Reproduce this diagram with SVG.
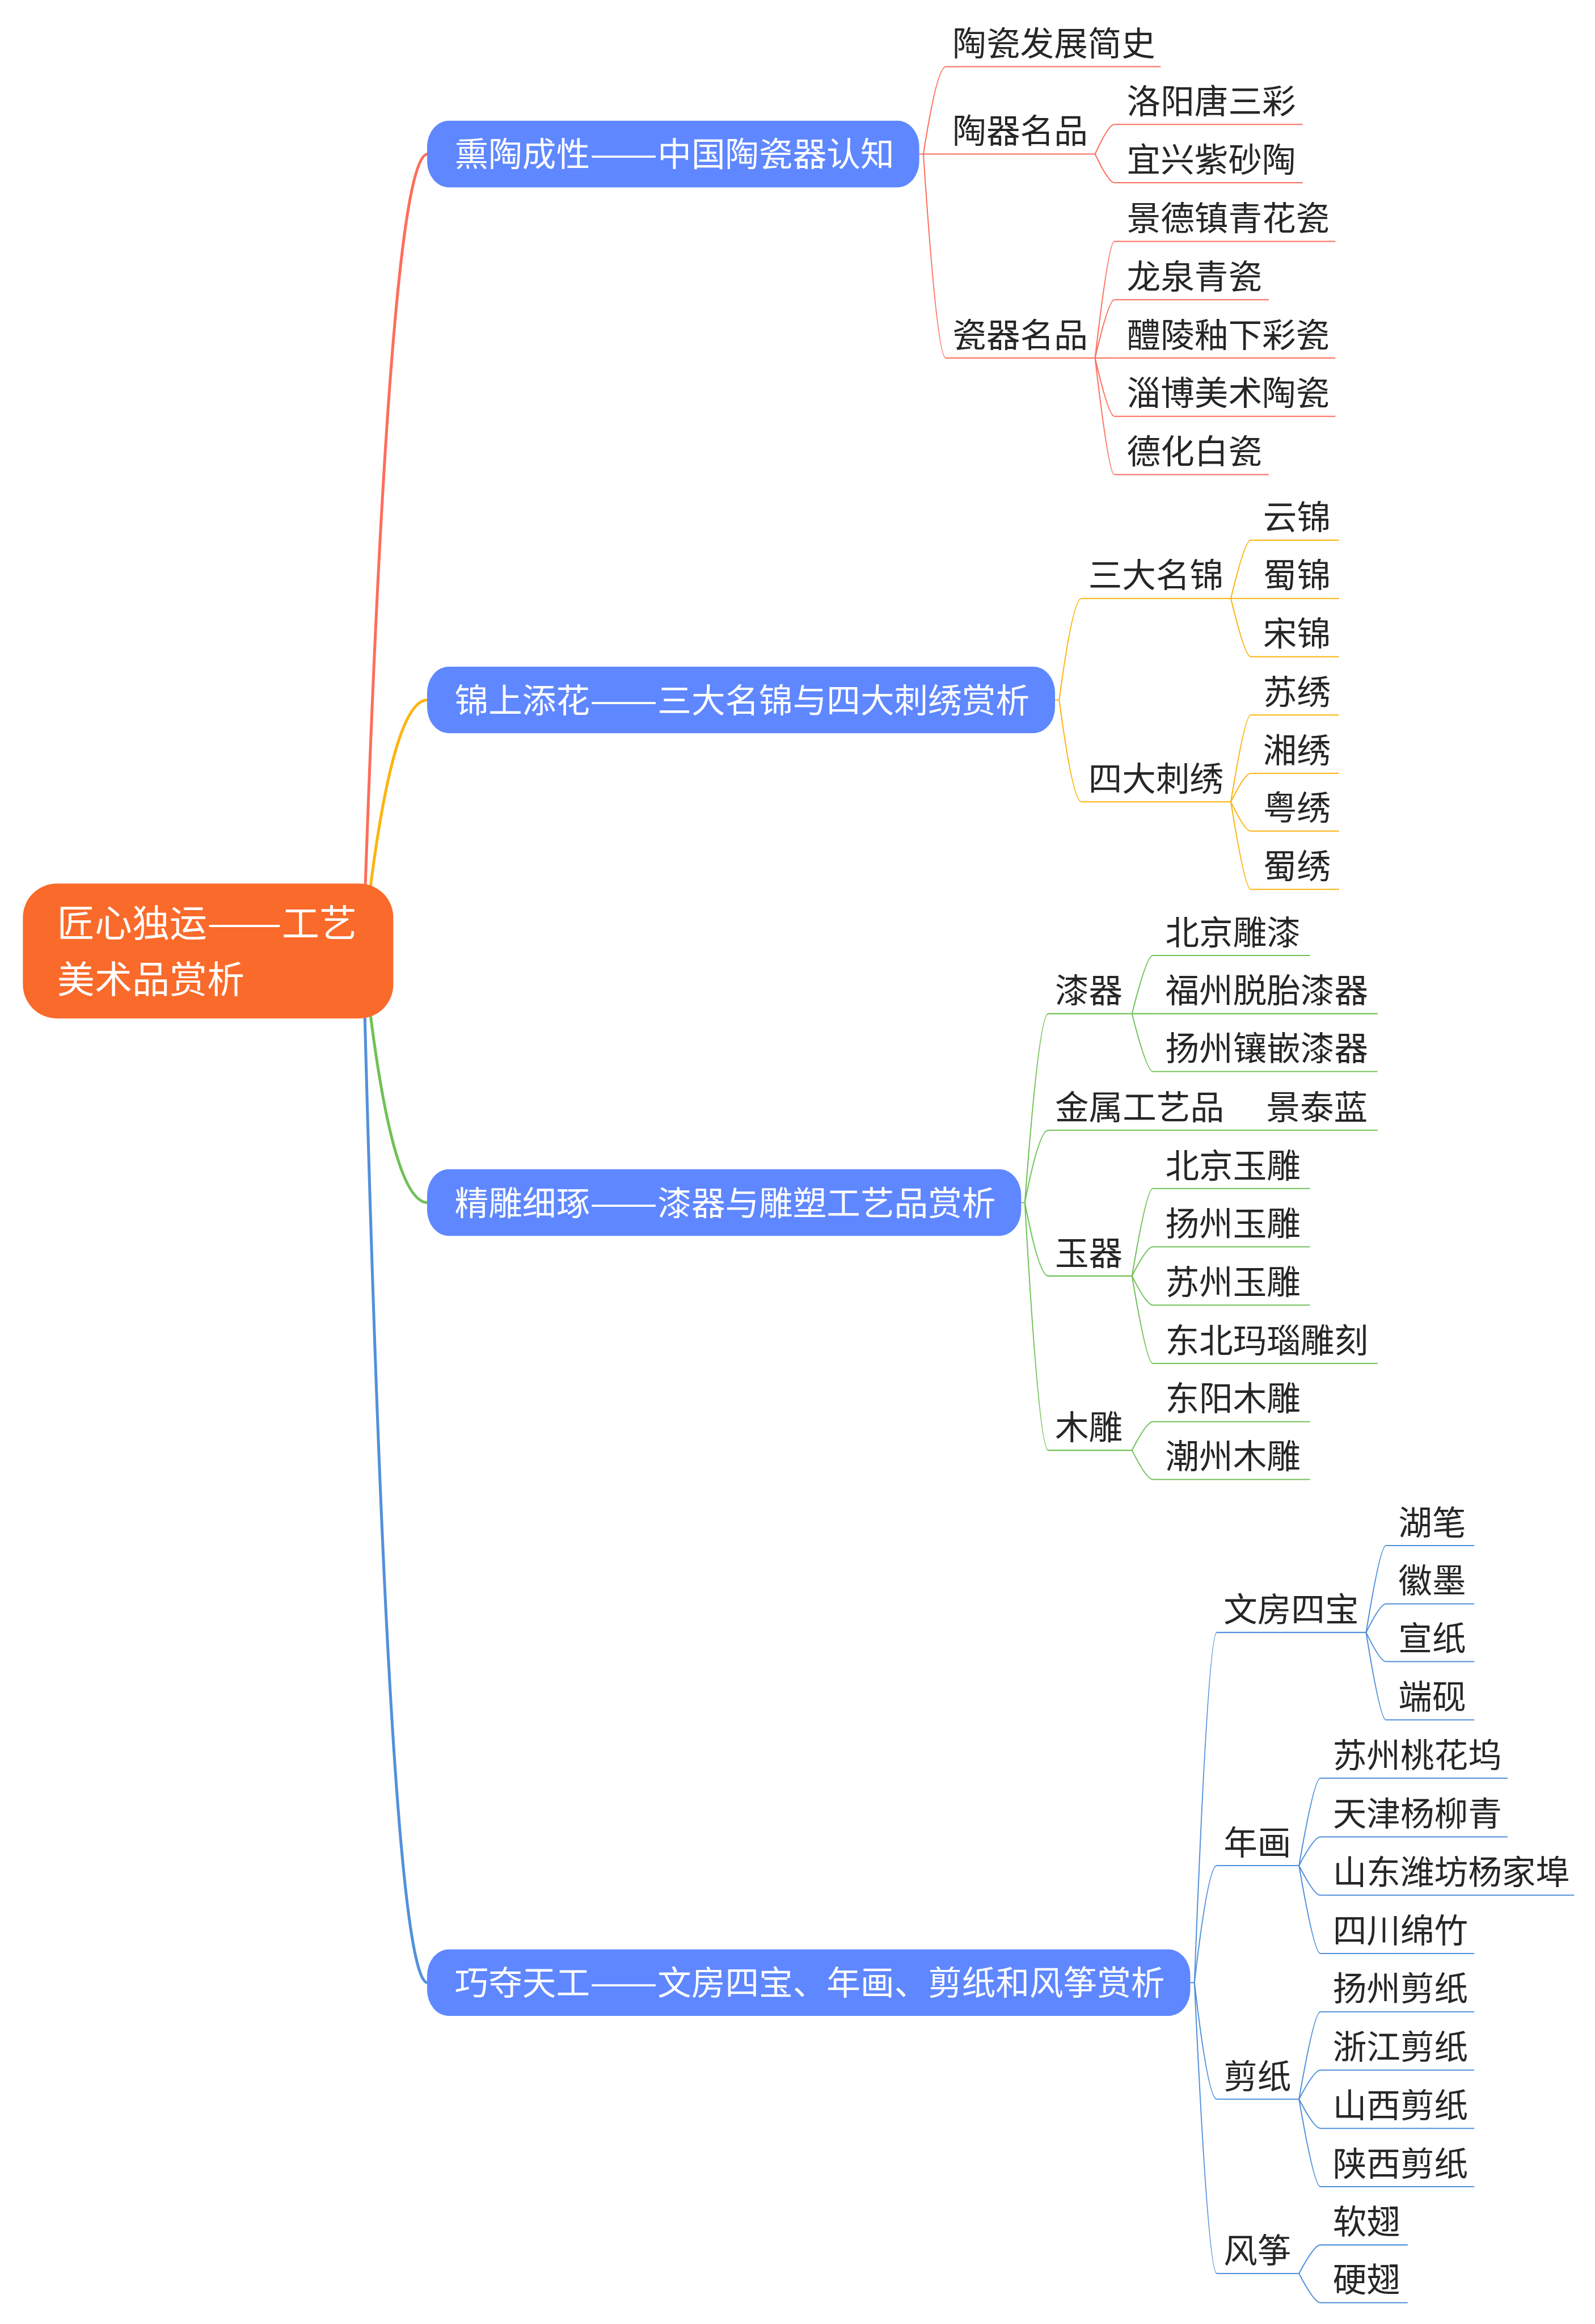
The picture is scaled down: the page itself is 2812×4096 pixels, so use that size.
<svg xmlns="http://www.w3.org/2000/svg" width="2812" height="4096" viewBox="0 0 2812 4096">
<style>
text{font-family:"Noto Sans CJK SC","Noto Sans",sans-serif;font-size:65px;fill:#262626;stroke:none}
.tn{fill:#ffffff}
.tr{fill:#ffffff;font-size:72px}
.m{fill:none;stroke-width:5.5;stroke-linecap:round}
.s{fill:none;stroke-width:2.2}
.u{stroke-width:2.2}
.c1{stroke:#FE6D5B}
.c2{stroke:#FDB40F}
.c3{stroke:#70C157}
.c4{stroke:#5290DB}
.nb{fill:#5F87FF}
</style>
<rect width="2812" height="4096" fill="#ffffff"/>
<g transform="scale(0.91716)">
<g id="connectors">
<path class="m c1" d="M698 1827 Q748 296 822 296"/>
<path class="m c2" d="M698 1827 Q748 1345 822 1345"/>
<path class="m c3" d="M698 1827 Q748 2311 822 2311"/>
<path class="m c4" d="M698 1827 Q748 3810 822 3810"/>
<g class="s c1">
<path d="M1767 296 H1818"/>
<path d="M1775 296 Q1801 128 1818 128"/>
<path d="M1775 296 Q1801 688 1818 688"/>
<path d="M2105 296 Q2131 239 2142 239"/>
<path d="M2105 296 Q2131 351 2142 351"/>
<path d="M2105 688 Q2131 464 2142 464"/>
<path d="M2105 688 Q2131 576 2142 576"/>
<path d="M2105 688 H2142"/>
<path d="M2105 688 Q2131 800 2142 800"/>
<path d="M2105 688 Q2131 912 2142 912"/>
</g>
<g class="s c2">
<path d="M2028 1345 H2036"/>
<path d="M2036 1345 Q2062 1150 2079 1150"/>
<path d="M2036 1345 Q2062 1541 2079 1541"/>
<path d="M2366 1150 Q2393 1038 2404 1038"/>
<path d="M2366 1150 H2404"/>
<path d="M2366 1150 Q2393 1262 2404 1262"/>
<path d="M2366 1541 Q2393 1374 2404 1374"/>
<path d="M2366 1541 Q2393 1486 2404 1486"/>
<path d="M2366 1541 Q2393 1597 2404 1597"/>
<path d="M2366 1541 Q2393 1709 2404 1709"/>
</g>
<g class="s c3">
<path d="M1963 2311 H1970"/>
<path d="M1970 2311 Q1997 1948 2015 1948"/>
<path d="M1970 2311 Q1997 2172 2015 2172"/>
<path d="M1970 2311 Q1997 2452 2015 2452"/>
<path d="M1970 2311 Q1997 2787 2015 2787"/>
<path d="M2176 1948 Q2204 1836 2216 1836"/>
<path d="M2176 1948 H2216"/>
<path d="M2176 1948 Q2204 2059 2216 2059"/>
<path d="M2365 2172 H2403"/>
<path d="M2176 2452 Q2204 2284 2216 2284"/>
<path d="M2176 2452 Q2204 2396 2216 2396"/>
<path d="M2176 2452 Q2204 2508 2216 2508"/>
<path d="M2176 2452 Q2204 2620 2216 2620"/>
<path d="M2176 2787 Q2204 2732 2216 2732"/>
<path d="M2176 2787 Q2204 2843 2216 2843"/>
</g>
<g class="s c4">
<path d="M2288 3810 H2296"/>
<path d="M2296 3810 Q2322 3137 2339 3137"/>
<path d="M2296 3810 Q2322 3585 2339 3585"/>
<path d="M2296 3810 Q2322 4034 2339 4034"/>
<path d="M2296 3810 Q2322 4369 2339 4369"/>
<path d="M2626 3137 Q2653 2970 2664 2970"/>
<path d="M2626 3137 Q2653 3082 2664 3082"/>
<path d="M2626 3137 Q2653 3193 2664 3193"/>
<path d="M2626 3137 Q2653 3305 2664 3305"/>
<path d="M2497 3585 Q2526 3417 2538 3417"/>
<path d="M2497 3585 Q2526 3530 2538 3530"/>
<path d="M2497 3585 Q2526 3642 2538 3642"/>
<path d="M2497 3585 Q2526 3754 2538 3754"/>
<path d="M2497 4034 Q2526 3866 2538 3866"/>
<path d="M2497 4034 Q2526 3978 2538 3978"/>
<path d="M2497 4034 Q2526 4090 2538 4090"/>
<path d="M2497 4034 Q2526 4202 2538 4202"/>
<path d="M2497 4369 Q2526 4314 2538 4314"/>
<path d="M2497 4369 Q2526 4425 2538 4425"/>
</g>
</g>
<g id="root"><rect x="44" y="1698" width="712" height="259" rx="65" fill="#F96A2B"/><text class="tr" x="110" y="1800">匠心独运<tspan x="398" textLength="144" lengthAdjust="spacingAndGlyphs">——</tspan><tspan x="542">工艺</tspan></text><text class="tr" x="110" y="1908">美术品赏析</text></g>
<g id="b1"><rect class="nb" x="821" y="232" width="946" height="128" rx="42" ry="50"/><text class="tn" x="874" y="320">熏陶成性<tspan x="1134" textLength="130" lengthAdjust="spacingAndGlyphs">——</tspan><tspan x="1264">中国陶瓷器认知</tspan></text></g>
<g id="b2"><rect class="nb" x="821" y="1281" width="1207" height="128" rx="42" ry="50"/><text class="tn" x="874" y="1369">锦上添花<tspan x="1134" textLength="130" lengthAdjust="spacingAndGlyphs">——</tspan><tspan x="1264">三大名锦与四大刺绣赏析</tspan></text></g>
<g id="b3"><rect class="nb" x="821" y="2247" width="1142" height="128" rx="42" ry="50"/><text class="tn" x="874" y="2335">精雕细琢<tspan x="1134" textLength="130" lengthAdjust="spacingAndGlyphs">——</tspan><tspan x="1264">漆器与雕塑工艺品赏析</tspan></text></g>
<g id="b4"><rect class="nb" x="821" y="3746" width="1467" height="128" rx="42" ry="50"/><text class="tn" x="874" y="3834">巧夺天工<tspan x="1134" textLength="130" lengthAdjust="spacingAndGlyphs">——</tspan><tspan x="1264">文房四宝、年画、剪纸和风筝赏析</tspan></text></g>
<g class="c1">
<g id="n1a"><line class="u" x1="1818" y1="128" x2="2231" y2="128"/><text x="1831" y="107">陶瓷发展简史</text></g>
<g id="n1b"><line class="u" x1="1818" y1="296" x2="2105" y2="296"/><text x="1831" y="275">陶器名品</text></g>
<g id="n1c"><line class="u" x1="1818" y1="688" x2="2105" y2="688"/><text x="1831" y="667">瓷器名品</text></g>
<g id="n1b1"><line class="u" x1="2142" y1="239" x2="2504" y2="239"/><text x="2166" y="218">洛阳唐三彩</text></g>
<g id="n1b2"><line class="u" x1="2142" y1="351" x2="2504" y2="351"/><text x="2166" y="330">宜兴紫砂陶</text></g>
<g id="n1c1"><line class="u" x1="2142" y1="464" x2="2567" y2="464"/><text x="2166" y="443">景德镇青花瓷</text></g>
<g id="n1c2"><line class="u" x1="2142" y1="576" x2="2439" y2="576"/><text x="2166" y="555">龙泉青瓷</text></g>
<g id="n1c3"><line class="u" x1="2142" y1="688" x2="2567" y2="688"/><text x="2166" y="667">醴陵釉下彩瓷</text></g>
<g id="n1c4"><line class="u" x1="2142" y1="800" x2="2567" y2="800"/><text x="2166" y="779">淄博美术陶瓷</text></g>
<g id="n1c5"><line class="u" x1="2142" y1="912" x2="2439" y2="912"/><text x="2166" y="891">德化白瓷</text></g>
</g>
<g class="c2">
<g id="n2a"><line class="u" x1="2079" y1="1150" x2="2366" y2="1150"/><text x="2092" y="1129">三大名锦</text></g>
<g id="n2b"><line class="u" x1="2079" y1="1541" x2="2366" y2="1541"/><text x="2092" y="1520">四大刺绣</text></g>
<g id="n2a1"><line class="u" x1="2404" y1="1038" x2="2574" y2="1038"/><text x="2428" y="1017">云锦</text></g>
<g id="n2a2"><line class="u" x1="2404" y1="1150" x2="2574" y2="1150"/><text x="2428" y="1129">蜀锦</text></g>
<g id="n2a3"><line class="u" x1="2404" y1="1262" x2="2574" y2="1262"/><text x="2428" y="1241">宋锦</text></g>
<g id="n2b1"><line class="u" x1="2404" y1="1374" x2="2574" y2="1374"/><text x="2428" y="1353">苏绣</text></g>
<g id="n2b2"><line class="u" x1="2404" y1="1486" x2="2574" y2="1486"/><text x="2428" y="1465">湘绣</text></g>
<g id="n2b3"><line class="u" x1="2404" y1="1597" x2="2574" y2="1597"/><text x="2428" y="1576">粤绣</text></g>
<g id="n2b4"><line class="u" x1="2404" y1="1709" x2="2574" y2="1709"/><text x="2428" y="1688">蜀绣</text></g>
</g>
<g class="c3">
<g id="n3a"><line class="u" x1="2015" y1="1948" x2="2176" y2="1948"/><text x="2028" y="1927">漆器</text></g>
<g id="n3b"><line class="u" x1="2015" y1="2172" x2="2365" y2="2172"/><text x="2028" y="2151">金属工艺品</text></g>
<g id="n3c"><line class="u" x1="2015" y1="2452" x2="2176" y2="2452"/><text x="2028" y="2431">玉器</text></g>
<g id="n3d"><line class="u" x1="2015" y1="2787" x2="2176" y2="2787"/><text x="2028" y="2766">木雕</text></g>
<g id="n3a1"><line class="u" x1="2216" y1="1836" x2="2518" y2="1836"/><text x="2240" y="1815">北京雕漆</text></g>
<g id="n3a2"><line class="u" x1="2216" y1="1948" x2="2648" y2="1948"/><text x="2240" y="1927">福州脱胎漆器</text></g>
<g id="n3a3"><line class="u" x1="2216" y1="2059" x2="2648" y2="2059"/><text x="2240" y="2038">扬州镶嵌漆器</text></g>
<g id="n3b1"><line class="u" x1="2403" y1="2172" x2="2648" y2="2172"/><text x="2434" y="2151">景泰蓝</text></g>
<g id="n3c1"><line class="u" x1="2216" y1="2284" x2="2518" y2="2284"/><text x="2240" y="2263">北京玉雕</text></g>
<g id="n3c2"><line class="u" x1="2216" y1="2396" x2="2518" y2="2396"/><text x="2240" y="2375">扬州玉雕</text></g>
<g id="n3c3"><line class="u" x1="2216" y1="2508" x2="2518" y2="2508"/><text x="2240" y="2487">苏州玉雕</text></g>
<g id="n3c4"><line class="u" x1="2216" y1="2620" x2="2648" y2="2620"/><text x="2240" y="2599">东北玛瑙雕刻</text></g>
<g id="n3d1"><line class="u" x1="2216" y1="2732" x2="2518" y2="2732"/><text x="2240" y="2711">东阳木雕</text></g>
<g id="n3d2"><line class="u" x1="2216" y1="2843" x2="2518" y2="2843"/><text x="2240" y="2822">潮州木雕</text></g>
</g>
<g class="c4">
<g id="n4a"><line class="u" x1="2339" y1="3137" x2="2626" y2="3137"/><text x="2352" y="3116">文房四宝</text></g>
<g id="n4b"><line class="u" x1="2339" y1="3585" x2="2497" y2="3585"/><text x="2352" y="3564">年画</text></g>
<g id="n4c"><line class="u" x1="2339" y1="4034" x2="2497" y2="4034"/><text x="2352" y="4013">剪纸</text></g>
<g id="n4d"><line class="u" x1="2339" y1="4369" x2="2497" y2="4369"/><text x="2352" y="4348">风筝</text></g>
<g id="n4a1"><line class="u" x1="2664" y1="2970" x2="2834" y2="2970"/><text x="2688" y="2949">湖笔</text></g>
<g id="n4a2"><line class="u" x1="2664" y1="3082" x2="2834" y2="3082"/><text x="2688" y="3061">徽墨</text></g>
<g id="n4a3"><line class="u" x1="2664" y1="3193" x2="2834" y2="3193"/><text x="2688" y="3172">宣纸</text></g>
<g id="n4a4"><line class="u" x1="2664" y1="3305" x2="2834" y2="3305"/><text x="2688" y="3284">端砚</text></g>
<g id="n4b1"><line class="u" x1="2538" y1="3417" x2="2898" y2="3417"/><text x="2562" y="3396">苏州桃花坞</text></g>
<g id="n4b2"><line class="u" x1="2538" y1="3530" x2="2898" y2="3530"/><text x="2562" y="3509">天津杨柳青</text></g>
<g id="n4b3"><line class="u" x1="2538" y1="3642" x2="3026" y2="3642"/><text x="2562" y="3621">山东潍坊杨家埠</text></g>
<g id="n4b4"><line class="u" x1="2538" y1="3754" x2="2834" y2="3754"/><text x="2562" y="3733">四川绵竹</text></g>
<g id="n4c1"><line class="u" x1="2538" y1="3866" x2="2834" y2="3866"/><text x="2562" y="3845">扬州剪纸</text></g>
<g id="n4c2"><line class="u" x1="2538" y1="3978" x2="2834" y2="3978"/><text x="2562" y="3957">浙江剪纸</text></g>
<g id="n4c3"><line class="u" x1="2538" y1="4090" x2="2834" y2="4090"/><text x="2562" y="4069">山西剪纸</text></g>
<g id="n4c4"><line class="u" x1="2538" y1="4202" x2="2834" y2="4202"/><text x="2562" y="4181">陕西剪纸</text></g>
<g id="n4d1"><line class="u" x1="2538" y1="4314" x2="2706" y2="4314"/><text x="2562" y="4293">软翅</text></g>
<g id="n4d2"><line class="u" x1="2538" y1="4425" x2="2706" y2="4425"/><text x="2562" y="4404">硬翅</text></g>
</g>
</g>
</svg>
